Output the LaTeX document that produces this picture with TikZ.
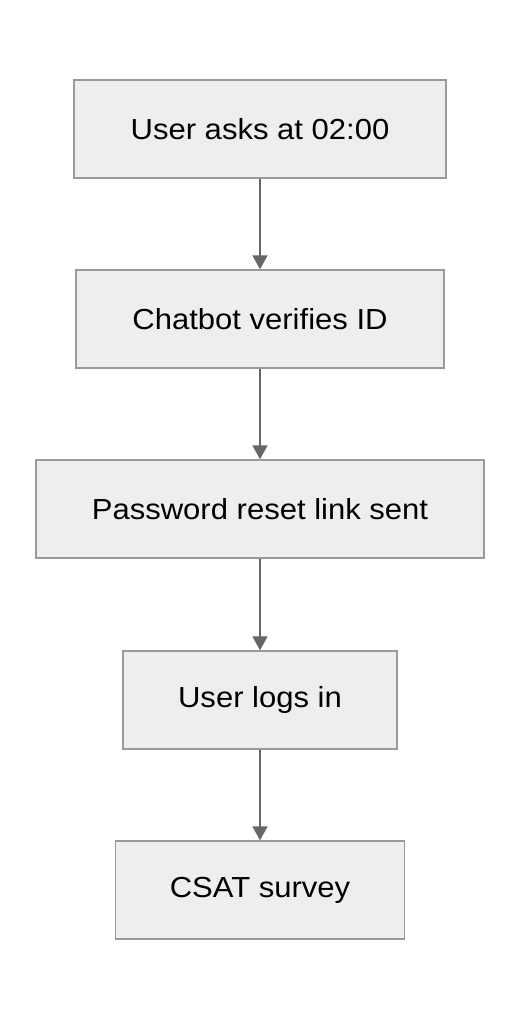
\documentclass[tikz,border=0pt]{standalone}
\usepackage{fontspec}
\setmainfont[FakeStretch=1.07]{Liberation Sans}
\usetikzlibrary{arrows.meta}
\definecolor{boxfill}{HTML}{EEEEEE}
\definecolor{boxline}{HTML}{999999}
\definecolor{arrowc}{HTML}{666666}
\tikzset{
  stepbox/.style={draw=boxline, fill=boxfill, line width=1.5pt, minimum height=98pt, inner sep=0pt, font=\fontsize{29pt}{34pt}\selectfont, text=black},
  flow/.style={draw=arrowc, line width=2pt, -{Triangle[width=15pt,length=14pt]}}
}
\begin{document}
\begin{tikzpicture}[x=1pt,y=-1pt]
\useasboundingbox (0,0) rectangle (520,1020);
\node[stepbox, minimum width=372pt] (a) at (260,129) {User asks at 02:00};
\node[stepbox, minimum width=368pt] (b) at (260,319) {Chatbot verifies ID};
\node[stepbox, minimum width=448pt] (c) at (260,509) {Password reset link sent};
\node[stepbox, minimum width=274pt] (d) at (260,700) {User logs in};
\node[stepbox, minimum width=289pt] (e) at (260,890) {CSAT survey};
\draw[flow] (a.south) -- (b.north);
\draw[flow] (b.south) -- (c.north);
\draw[flow] (c.south) -- (d.north);
\draw[flow] (d.south) -- (e.north);
\end{tikzpicture}
\end{document}
